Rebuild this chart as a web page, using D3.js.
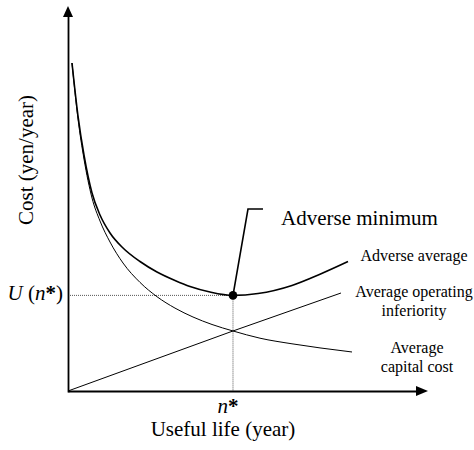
<!DOCTYPE html>
<html>
<head>
<meta charset="utf-8">
<script src="https://cdn.jsdelivr.net/npm/d3@7"></script>
<style>
  html, body { margin: 0; padding: 0; background: #fff; }
  svg { display: block; }
  text { font-family: "Liberation Serif", "Times New Roman", serif; fill: #000; }
</style>
</head>
<body>
<svg id="chart" width="474" height="450"></svg>
<script>
// Useful life n (years, schematic units) and the three average cost curves
const adverseLife   = [0.111, 0.278, 0.444, 0.667, 0.889, 1.167, 1.528, 2.000, 2.472, 2.972, 3.389, 3.944, 4.583, 5.278, 6.222, 7.000, 7.778];
const adverseCost   = [8.542, 7.161, 6.146, 5.156, 4.583, 4.115, 3.724, 3.372, 3.099, 2.878, 2.721, 2.578, 2.490, 2.539, 2.750, 3.042, 3.372];

const capitalLife   = [0.111, 0.278, 0.444, 0.667, 0.889, 1.167, 1.528, 2.000, 2.472, 2.972, 3.472, 4.000, 4.583, 5.333, 6.222, 7.000, 7.889];
const capitalCost   = [8.542, 7.083, 6.042, 5.026, 4.427, 3.880, 3.333, 2.828, 2.456, 2.159, 1.927, 1.732, 1.563, 1.375, 1.229, 1.122, 1.016];

const operatingLife = [0.000, 4.583, 7.583];
const operatingCost = [0.000, 1.563, 2.552];

// Optimal life n* and the adverse minimum U(n*)
const optimalLife = 4.583;
const minimumCost = 2.490;

// Axis extents
const lifeDomain = [0, 10];
const costDomain = [0, 10];

const curveLabels = [
  { lines: ["Adverse average"], x: 414, y: 261 },
  { lines: ["Average operating", "inferiority"], x: 414, y: 297 },
  { lines: ["Average", "capital cost"], x: 417, y: 353 }
];

const svg = d3.select("#chart");

const x = d3.scaleLinear().domain(lifeDomain).range([68, 428]);
const y = d3.scaleLinear().domain(costDomain).range([391, 7]);

const zip = (a, b) => a.map((v, i) => [v, b[i]]);
const smooth = d3.line().x(d => x(d[0])).y(d => y(d[1])).curve(d3.curveMonotoneX);
const straight = d3.line().x(d => x(d[0])).y(d => y(d[1]));

// Guide lines at n* and U(n*)
svg.append("line")
  .attr("x1", x(0)).attr("x2", x(optimalLife))
  .attr("y1", y(minimumCost)).attr("y2", y(minimumCost))
  .attr("stroke", "#555").attr("stroke-width", 1).attr("stroke-dasharray", "1,1");
svg.append("line")
  .attr("x1", x(optimalLife)).attr("x2", x(optimalLife))
  .attr("y1", y(minimumCost)).attr("y2", y(0))
  .attr("stroke", "#555").attr("stroke-width", 1).attr("stroke-dasharray", "1,1");

// Axes (no ticks), drawn from the scales
const xAxisEnd = 417;
const yAxisEnd = 16;
svg.append("g")
  .attr("transform", `translate(0,${y(0)})`)
  .call(d3.axisBottom(d3.scaleLinear().domain([0, x.invert(xAxisEnd)]).range([x(0), xAxisEnd]))
    .tickValues([]).tickSizeOuter(0))
  .select(".domain").attr("stroke", "#000").attr("stroke-width", 1.8);
svg.append("g")
  .attr("transform", `translate(${x(0)},0)`)
  .call(d3.axisLeft(d3.scaleLinear().domain([0, y.invert(yAxisEnd)]).range([y(0) + 1, yAxisEnd]))
    .tickValues([]).tickSizeOuter(0))
  .select(".domain").attr("stroke", "#000").attr("stroke-width", 1.8);

// Arrow heads
svg.append("path")
  .attr("d", `M${x(0)},6 L${x(0) - 5},17 L${x(0) + 5},17 Z`)
  .attr("fill", "#000");
svg.append("path")
  .attr("d", `M428,${y(0)} L416,${y(0) - 5} L416,${y(0) + 5} Z`)
  .attr("fill", "#000");

// Curves
svg.append("path")
  .attr("d", straight(zip(operatingLife, operatingCost)))
  .attr("fill", "none").attr("stroke", "#000").attr("stroke-width", 1);
svg.append("path")
  .attr("d", smooth(zip(capitalLife, capitalCost)))
  .attr("fill", "none").attr("stroke", "#000").attr("stroke-width", 1);
svg.append("path")
  .attr("d", smooth(zip(adverseLife, adverseCost)))
  .attr("fill", "none").attr("stroke", "#000").attr("stroke-width", 1.6);

// Adverse minimum marker and callout
const mx = x(optimalLife), my = y(minimumCost);
svg.append("path")
  .attr("d", `M${mx},${my} L${mx + 15},209 L${mx + 30},209`)
  .attr("fill", "none").attr("stroke", "#000").attr("stroke-width", 1.6);
svg.append("circle")
  .attr("cx", mx).attr("cy", my).attr("r", 4.3).attr("fill", "#000");
svg.append("text")
  .attr("x", 281).attr("y", 225)
  .attr("font-size", 21)
  .text("Adverse minimum");

// Curve labels
curveLabels.forEach(l => {
  const t = svg.append("text")
    .attr("x", l.x).attr("y", l.y)
    .attr("font-size", 16).attr("text-anchor", "middle");
  l.lines.forEach((s, i) => {
    t.append("tspan").attr("x", l.x).attr("dy", i === 0 ? 0 : 19).text(s);
  });
});

// Axis labels
const uLabel = svg.append("text")
  .attr("x", x(0) - 5).attr("y", my + 5)
  .attr("font-size", 21).attr("text-anchor", "end");
uLabel.append("tspan").attr("font-style", "italic").text("U");
uLabel.append("tspan").text(" (");
uLabel.append("tspan").attr("font-style", "italic").text("n");
uLabel.append("tspan").attr("font-weight", "bold").text("*");
uLabel.append("tspan").text(")");

const nLabel = svg.append("text")
  .attr("x", mx - 5).attr("y", 413)
  .attr("font-size", 21).attr("text-anchor", "middle");
nLabel.append("tspan").attr("font-style", "italic").text("n");
nLabel.append("tspan").attr("font-weight", "bold").text("*");

svg.append("text")
  .attr("x", 223).attr("y", 436)
  .attr("font-size", 21).attr("text-anchor", "middle")
  .text("Useful life (year)");

svg.append("text")
  .attr("transform", "translate(33,160) rotate(-90)")
  .attr("font-size", 21).attr("text-anchor", "middle")
  .text("Cost (yen/year)");
</script>
</body>
</html>
